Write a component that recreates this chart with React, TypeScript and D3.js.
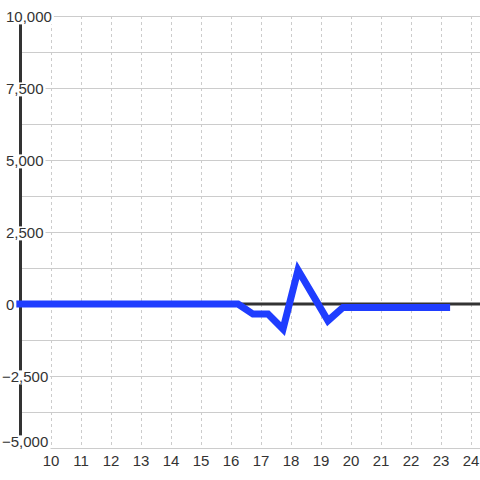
import React from 'react';
import * as d3 from 'd3';

const hours = [8.75, 9.25, 9.75, 10.25, 10.75, 11.25, 11.75, 12.25, 12.75, 13.25, 13.75, 14.25, 14.75, 15.25, 15.75, 16.25, 16.75, 17.25, 17.75, 18.25, 18.75, 19.25, 19.75, 20.25, 20.75, 21.25, 21.75, 22.25, 22.75, 23.25, 23.32];
const values = [0, 0, 0, 0, 0, 0, 0, 0, 0, 0, 0, 0, 0, 0, 0, 0, -350, -350, -870, 1180, 300, -580, -120, -120, -120, -120, -120, -120, -120, -120, -120];
const yTickValues = [-5000, -2500, 0, 2500, 5000, 7500, 10000];
const yGridValues = [-5000, -3750, -2500, -1250, 0, 1250, 2500, 3750, 5000, 6250, 7500, 8750, 10000];
const xTickValues = [10, 11, 12, 13, 14, 15, 16, 17, 18, 19, 20, 21, 22, 23, 24];

const W = 480;
const H = 480;
const FONT = '"Liberation Sans", Arial, sans-serif';

function textWidth(s: string) {
  let w = 0;
  for (const c of s) {
    if (c === ',') w += 4.17;
    else if (c === '-') w += 5.0;
    else w += 8.34;
  }
  return w;
}

export default function App() {
  const x = d3.scaleLinear().domain([10, 24]).range([50.5, 470.5]);
  const y = d3.scaleLinear().domain([-5000, 10000]).range([448, 16]);
  const fmt = d3.format(',');
  const data = hours.map((h, i) => [h, values[i]] as [number, number]);
  const line = d3.line<[number, number]>().x(d => x(d[0])).y(d => y(d[1]));
  const axisX = x(9);
  const plotRight = W;

  return (
    <svg width={W} height={H} style={{ position: 'absolute', left: 0, top: 0, background: '#fff' }} fontFamily={FONT}>
      <rect x={0} y={0} width={W} height={H} fill="#fff" />
      {yGridValues.map(v => {
        const yy = Math.round(y(v)) + 0.5;
        return (
          <line key={'g' + v} x1={v === -5000 ? x(10) : axisX} x2={plotRight} y1={yy} y2={yy} stroke="#cccccc" strokeWidth={1} />
        );
      })}
      {xTickValues.map(v => (
        <line key={'v' + v} x1={Math.round(x(v)) + 0.5} x2={Math.round(x(v)) + 0.5} y1={y(10000)} y2={y(-5000)} stroke="#cccccc" strokeWidth={1} strokeDasharray="3,3" />
      ))}
      <line x1={axisX} x2={axisX} y1={y(10000)} y2={y(-5000)} stroke="#333" strokeWidth={3} />
      <line x1={axisX} x2={plotRight} y1={y(0)} y2={y(0)} stroke="#333" strokeWidth={3} />
      <path d={line(data) || ''} fill="none" stroke="#1f3dff" strokeWidth={7} strokeLinejoin="miter" />
      {yTickValues.map(v => {
        const label = fmt(v);
        const center = Math.min(y(v) + 1, 442);
        const baseline = center + 5.4;
        const tx = v < 0 ? 2 : 6;
        const w = textWidth(label);
        return (
          <g key={'yl' + v}>
            <rect x={tx - 1} y={baseline - 12} width={w + 3} height={14} fill="#fff" />
            <text x={tx} y={baseline} fontSize={15} fill="#333">{label}</text>
          </g>
        );
      })}
      {xTickValues.map(v => (
        <text key={'xl' + v} x={x(v) + 0.5} y={465.5} fontSize={15} fill="#333" textAnchor="middle">{v}</text>
      ))}
    </svg>
  );
}
